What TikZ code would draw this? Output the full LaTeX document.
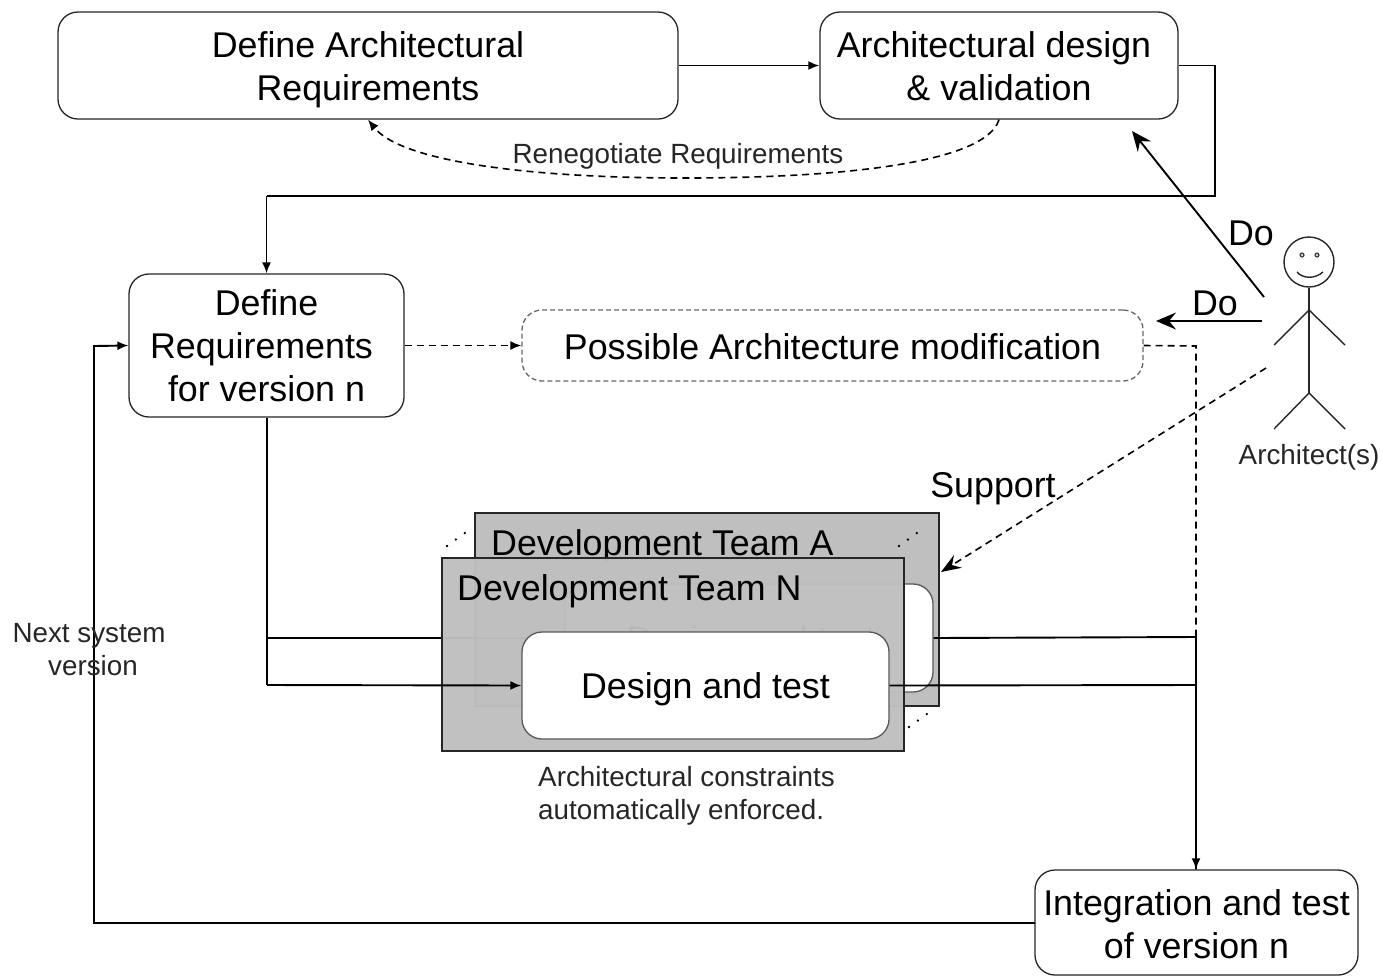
\documentclass[tikz,border=0pt]{standalone}
\usepackage{fontspec}
\setmainfont{Liberation Sans}
\usetikzlibrary{arrows.meta,calc}
\newcommand\droptext[2]{\vbox{\kern#1\hbox{\begin{tabular}{@{}c@{}}#2\end{tabular}}}}
\tikzset{
 x=1pt,y=-1pt,
 proc/.style={draw=black!85,line width=1.3pt,rounded corners=20pt,fill=white,inner sep=0pt,align=center,font=\fontsize{35.8}{43}\selectfont},
 team/.style={draw=black!85,line width=1.6pt,fill=black!25,anchor=north west,inner sep=0pt},
 label/.style={inner sep=0pt,font=\fontsize{35.8}{43}\selectfont},
 small/.style={inner sep=0pt,align=center,font=\fontsize{27.8}{33}\selectfont,text=black!85},
 flow/.style={line width=1.9pt,-{Latex[length=11pt,width=9pt]}},
 flowplain/.style={line width=1.9pt},
 dflow/.style={line width=1.6pt,dash pattern=on 7pt off 5pt,-{Latex[length=11pt,width=9pt]}},
 doarrow/.style={line width=1.9pt,-{Stealth[length=20pt,width=17pt,inset=7pt]}},
 fig/.style={line width=1.4pt,draw=black!85},
 dots/.style={line width=2.6pt,line cap=round,dash pattern=on 0pt off 11pt},
}
\begin{document}
\begin{tikzpicture}
\useasboundingbox (0,0) rectangle (1383,975);
\clip (0,0) rectangle (1383,975);
% top row
\node[proc,minimum width=620pt,minimum height=107pt] (defarch) at (368,65.5) {\droptext{9pt}{Define Architectural\\Requirements}};
\node[proc,minimum width=358pt,minimum height=107pt] (archdes) at (999,65.5) {\droptext{10pt}{Architectural design\kern10pt\\\& validation}};
% requirements and modification
\node[proc,minimum width=275pt,minimum height=143pt] (defreq) at (266.5,345.5) {\droptext{9pt}{Define\\Requirements\kern10pt\\for version n}};
\node[proc,draw=black!60,dash pattern=on 5pt off 3pt,minimum width=621pt,minimum height=71pt] (mod) at (832.5,345.5) {\droptext{10pt}{Possible Architecture modification}};
% integration
\node[proc,minimum width=323pt,minimum height=105pt] (integ) at (1196.5,922.5) {\droptext{12pt}{Integration and test\\of version n}};
% coordinates
\coordinate (c1) at (1215,196);
\coordinate (backin) at (267,637);
\coordinate (frontin) at (267,685);
\coordinate (busA) at (1196,637);
\coordinate (busN) at (1196,685);
\coordinate (modbend) at (1196,346);
\coordinate (nextA) at (94,923);
\coordinate (nextB) at (94,346);
% team A
\node[team,minimum width=464pt,minimum height=193pt] (teamA) at (474,512) {};
\node[label,anchor=west] (teamAt) at (491,546) {Development Team A};
\node[proc,draw=black!65,minimum width=368pt,minimum height=108pt] (dtA) at (749,638) {};
\node[label] (dtAt) at (751,642) {Design and test};
\draw[flowplain] (defreq.south -| backin) |- (dtA.west);
% outgoing back line
\draw[flowplain] (dtA.east) -- (busA) -- (integ.north -| busA);
% team N (slightly see-through)
\fill[black!25,fill opacity=.97] (441,557) rectangle (903,750);
\node[team,fill=none,minimum width=462pt,minimum height=193pt] (teamN) at (441,557) {};
\node[label,anchor=west] (teamNt) at (457,591) {Development Team N};
\node[proc,draw=black!65,minimum width=367pt,minimum height=107pt] (dtN) at (705.5,685.5) {\droptext{8pt}{Design and test}};
% connectors
\draw[-,flowplain] (archdes.east) -| (c1) -- (defreq.north |- c1);
\draw[flow] (c1 -| defreq.north) -- (defreq.north);
\draw[flow] (defarch.east) -- (archdes.west);
\draw[dflow] (archdes.south) .. controls (985,165) and (830,178) .. (685,178) .. controls (520,178) and (400,160) .. (defarch.south);
\node[inner sep=0pt,font=\fontsize{27.8}{33}\selectfont,text=black!85] (reneg) at (678,156) {Renegotiate Requirements};
\draw[dflow] (defreq.east) -- (mod.west);
\draw[dflow,-] (mod.east) -- (modbend) -- (busA);
\draw[flowplain] (defreq.south) ++(0.5,0) -- (frontin);
\draw[flow] (frontin) -- (dtN.west);
\draw[flowplain] (dtN.east) -- (busN);
\draw[flow] (busN) -- (integ.north -| busN);
\draw[flow] (integ.west) -- (nextA -| integ.west) -- (nextA) -- (nextB) -- (defreq.west);
\node[small] (next) at (89,650) {Next system\\\hspace{8pt}version};
\node[small,anchor=north west,align=left] (constr) at (538,766) {Architectural constraints\\automatically enforced.};
% dots
\draw[dots] (447,546) -- (469,530);
\draw[dots] (899,546) -- (921,530);
\draw[dots] (909,727) -- (931,711);
% stick figure
\node[circle,fig,minimum size=50pt,inner sep=0pt] (head) at (1309,262) {};
\coordinate (neck) at (1309,310);
\coordinate (hip) at (1309,393);
\draw[fig] (head.south) -- (hip);
\draw[fig] (1274,345) -- (neck) -- (1345,345);
\draw[fig] (1274,429) -- (hip) -- (1345,429);
\fill[black!75] (1302,255) circle (2.6pt) (1317,255) circle (2.6pt);
\fill[white] (1302,255) circle (1.1pt) (1317,255) circle (1.1pt);
\draw[fig] (1297,272) .. controls (1303,279) and (1315,279) .. (1323,272);
\node[small] (archlabel) at (1309,457) {Architect(s)};
% architect arrows
\coordinate (d1) at (1264,297);
\coordinate (d2) at (1262,321);
\coordinate (d3) at (1266,368);
\coordinate (t1) at (1132,131);
\coordinate (t2) at (1156,321);
\coordinate (t3) at (941,572);
\draw[doarrow] (d1) -- (t1);
\draw[doarrow] (d2) -- (t2);
\draw[line width=1.6pt,dash pattern=on 7pt off 5pt,-{Stealth[length=20pt,width=15pt,inset=7pt]}] (d3) -- (t3);
\node[label] (do1) at (1251,233) {Do};
\node[label] (do2) at (1215,303) {Do};
\node[label] (support) at (993,489) {Support};
\end{tikzpicture}
\end{document}
